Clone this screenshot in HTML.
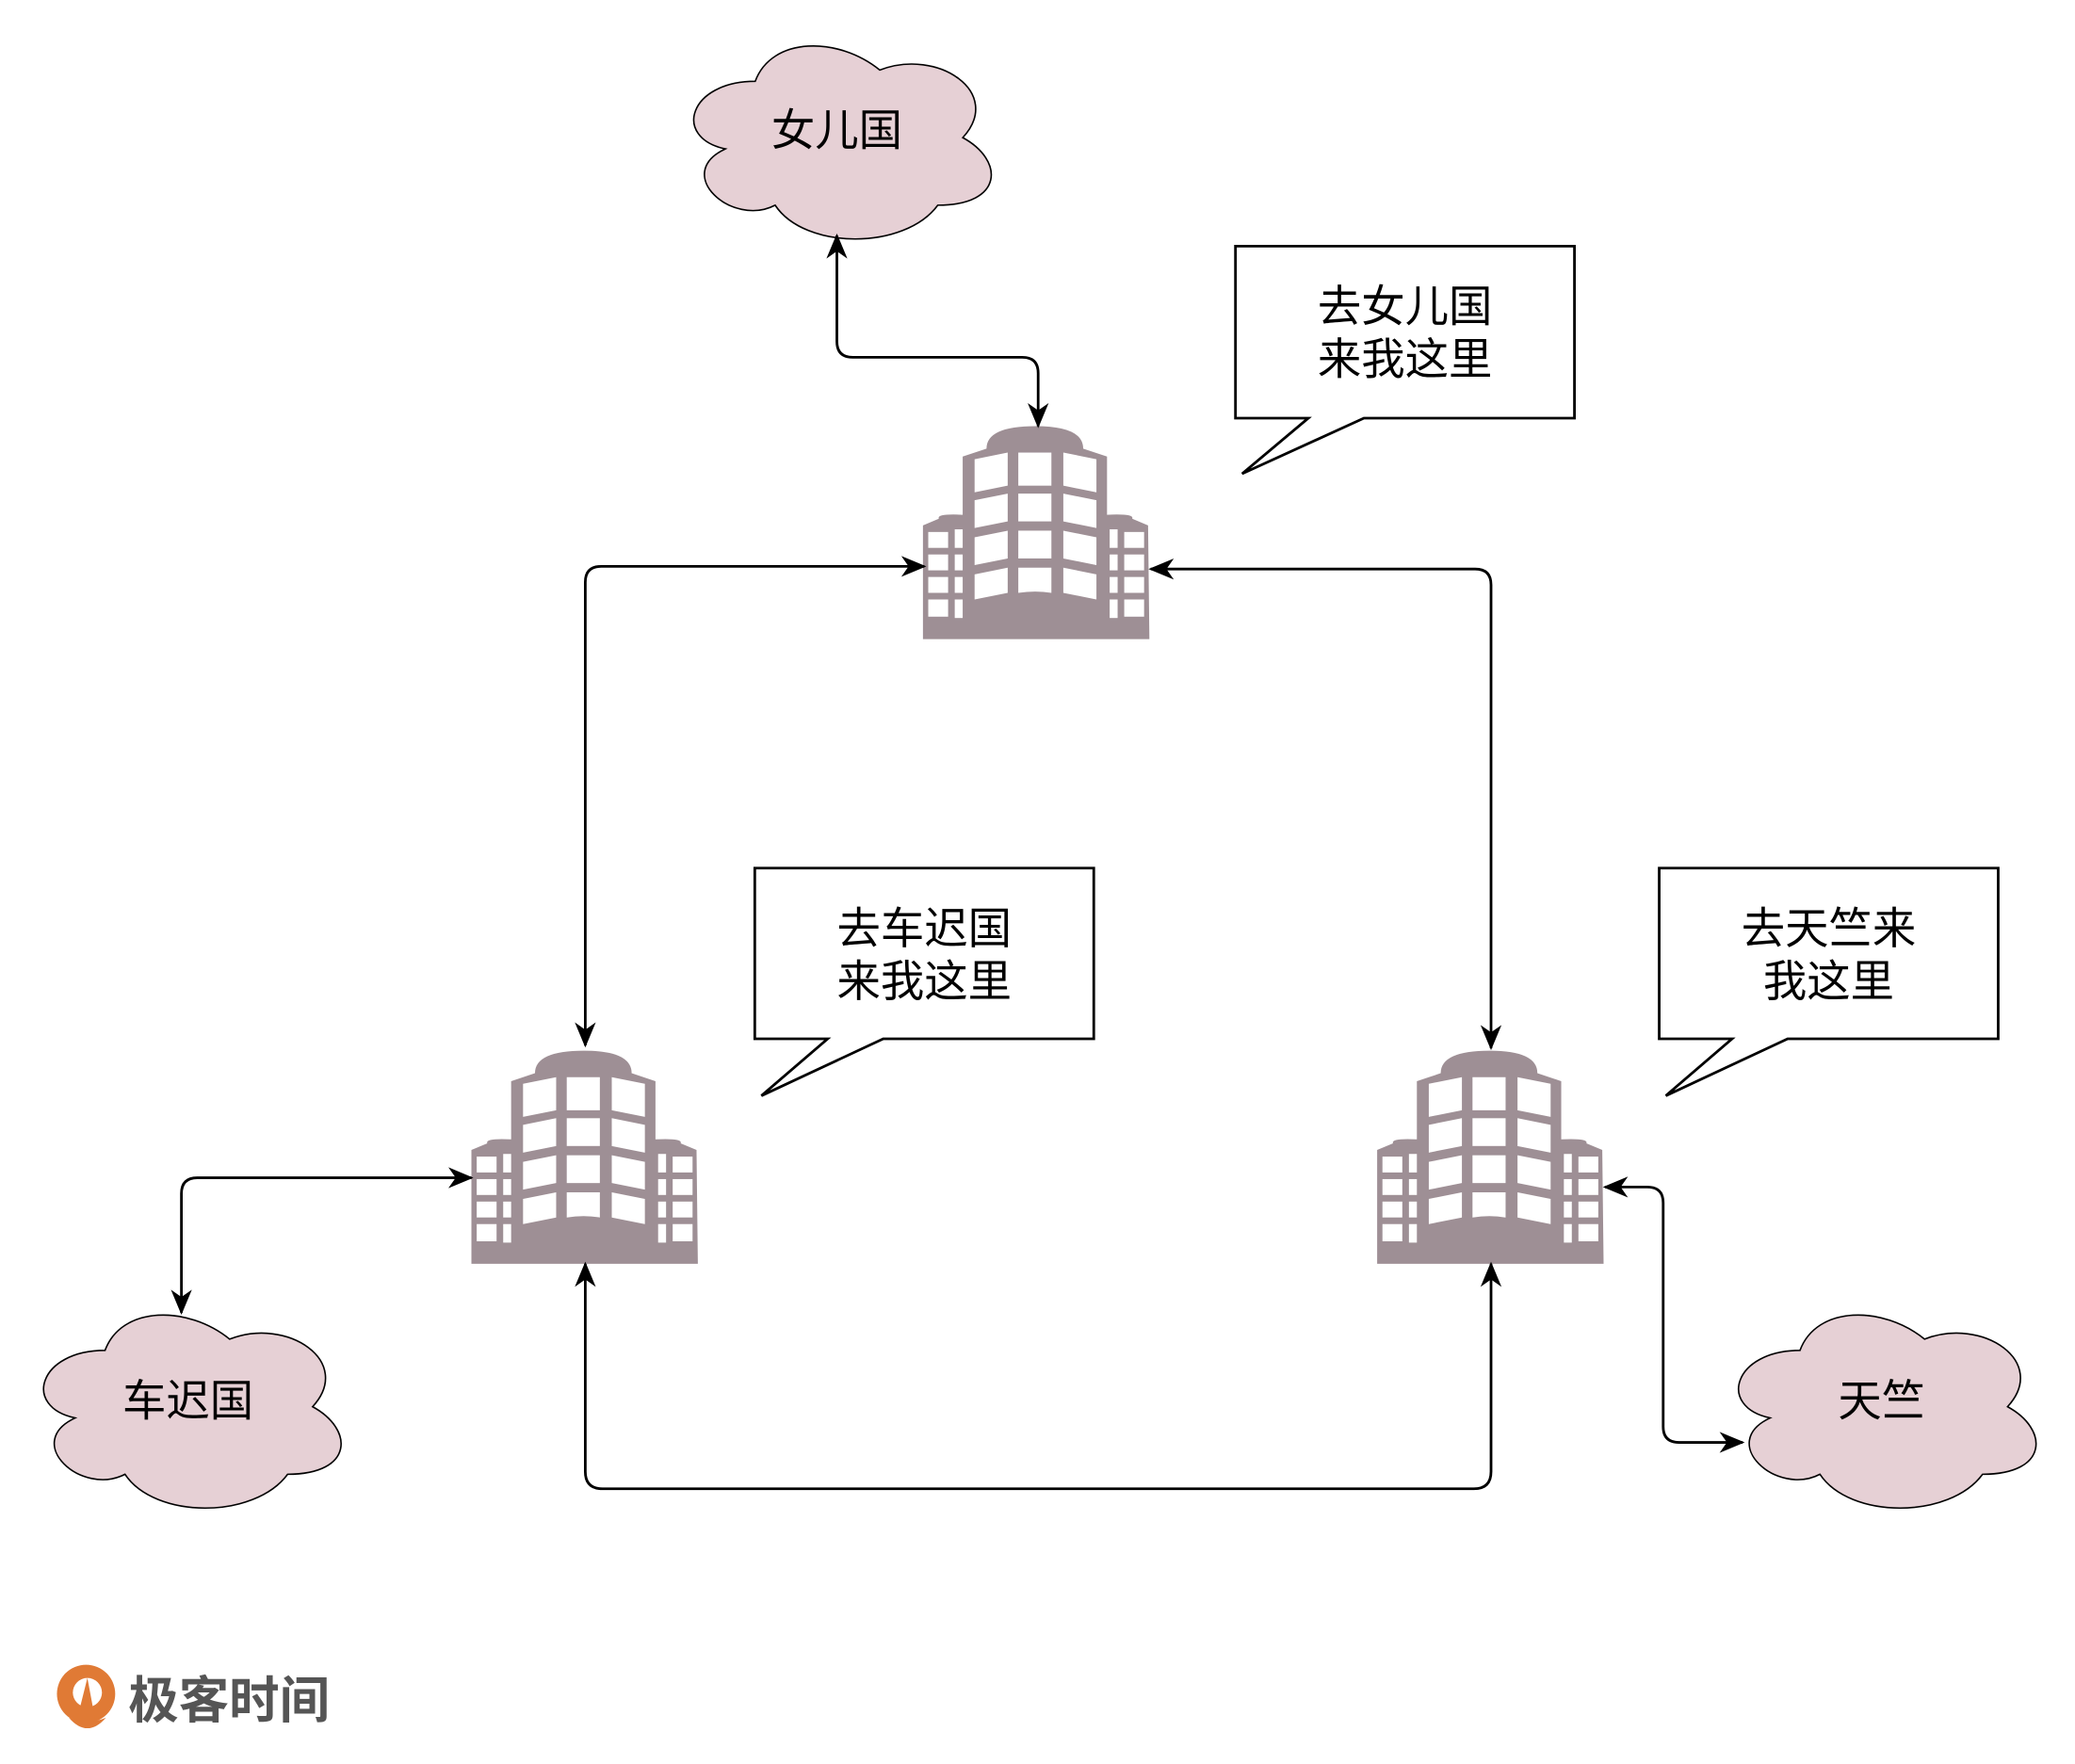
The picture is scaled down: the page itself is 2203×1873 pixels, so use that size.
<!DOCTYPE html>
<html><head><meta charset="utf-8"><style>html,body{margin:0;padding:0;background:#fff}svg{display:block}</style></head>
<body>
<svg width="2203" height="1873" viewBox="0 0 1567 1333" preserveAspectRatio="none" xmlns="http://www.w3.org/2000/svg" font-family="'Liberation Sans','Noto Sans CJK SC',sans-serif">
<defs>
<marker id="b" viewBox="0 0 12 12" refX="11" refY="6" markerWidth="19" markerHeight="19" markerUnits="userSpaceOnUse" orient="auto-start-reverse">
<path d="M0,1 L12,6 L0,11 L3.5,6 Z" fill="#000"/></marker>
<g id="bld">
<path d="M48,17 Q48,0 85,0 Q121,0 121,17 L139,23 L139,67 Q160,66 158,70 L170,75 L171,161 L0,161 L0,75 L12,70 Q10,66 30,67 L30,23 Z" fill="#9e8f95"/>
<g fill="#fff">
<path d="M39,25 L64,20 L64,45 L39,50 Z"/><rect x="72" y="20" width="25" height="25"/><path d="M106,20 L131,25 L131,50 L106,45 Z"/>
<path d="M39,56 L64,51 L64,72 L39,77 Z"/><rect x="72" y="51" width="25" height="21"/><path d="M106,51 L131,56 L131,77 L106,72 Z"/>
<path d="M39,84 L64,79 L64,100 L39,105 Z"/><rect x="72" y="79" width="25" height="21"/><path d="M106,79 L131,84 L131,105 L106,100 Z"/>
<path d="M39,112 L64,107 L64,126 L39,131 Z"/><path d="M72,107 L97,107 L97,126 Q85,124 72,126 Z"/><path d="M106,107 L131,112 L131,131 L106,126 Z"/>
<rect x="4" y="80" width="15" height="12"/><rect x="24" y="78" width="6" height="14"/>
<rect x="4" y="97" width="15" height="12"/><rect x="24" y="97" width="6" height="12"/>
<rect x="4" y="114" width="15" height="12"/><rect x="24" y="114" width="6" height="12"/>
<rect x="4" y="131" width="15" height="13"/><rect x="24" y="131" width="6" height="14"/>
<rect x="152" y="80" width="15" height="12"/><rect x="141" y="78" width="6" height="14"/>
<rect x="152" y="97" width="15" height="12"/><rect x="141" y="97" width="6" height="12"/>
<rect x="152" y="114" width="15" height="12"/><rect x="141" y="114" width="6" height="12"/>
<rect x="152" y="131" width="15" height="13"/><rect x="141" y="131" width="6" height="14"/>
</g></g>
<path id="cl" transform="translate(115,74) scale(1.09,1.15) translate(-115,-74)" vector-effect="non-scaling-stroke" d="M57.5,37 C11.5,37 0,74 36.8,81.4 C0,97.7 41.4,133.2 71.3,118.4 C92,148 161,148 184,118.4 C230,118.4 230,88.8 201.3,74 C230,44.4 184,14.8 143.8,29.6 C115,7.4 69,7.4 57.5,37 Z" fill="#e6d0d5" stroke="#000" stroke-width="1.6"/>
</defs>

<use href="#cl" x="518" y="30"/>
<use href="#cl" x="27" y="989"/>
<use href="#cl" x="1307" y="989"/>
<g font-size="33" text-anchor="middle" fill="#000">
<text x="632" y="110">女儿国</text>
<text x="142" y="1070">车迟国</text>
<text x="1421" y="1070">天竺</text>
</g>

<use href="#bld" x="697" y="322"/>
<use href="#bld" x="356" y="794"/>
<use href="#bld" x="1040" y="794"/>

<g fill="#fff" stroke="#000" stroke-width="2">
<path d="M933,186 H1189 V316 H1030 L938,358 L988,316 H933 Z"/>
<path d="M570,656 H826 V785 H667 L575,828 L625,785 H570 Z"/>
<path d="M1253,656 H1509 V785 H1350 L1258,828 L1308,785 H1253 Z"/>
</g>
<g font-size="33" text-anchor="middle" fill="#000">
<text x="1061" y="243">去女儿国</text><text x="1061" y="283">来我这里</text>
<text x="698" y="713">去车迟国</text><text x="698" y="753">来我这里</text>
<text x="1381" y="713">去天竺来</text><text x="1381" y="753">我这里</text>
</g>

<g fill="none" stroke="#000" stroke-width="2" marker-start="url(#b)" marker-end="url(#b)">
<path d="M632,178 V258 Q632,270 644,270 H772 Q784,270 784,282 V322"/>
<path d="M442,790 V440 Q442,428 454,428 H698"/>
<path d="M869,430 H1114 Q1126,430 1126,442 V792"/>
<path d="M442,955 V1112 Q442,1125 455,1125 H1113 Q1126,1125 1126,1112 V955"/>
<path d="M356,890 H149 Q137,890 137,902 V992"/>
<path d="M1212,897 H1244 Q1256,897 1256,909 V1078 Q1256,1090 1268,1090 H1316"/>
</g>

<g>
<circle cx="65" cy="1280" r="22" fill="#e07a35"/>
<circle cx="66" cy="1279" r="11" fill="#fff"/>
<path d="M58,1300 L66,1268 L72,1300 Z" fill="#e07a35"/>
<path d="M52,1298 Q66,1314 80,1298 Q66,1304 52,1298 Z" fill="#e07a35"/>
<text x="97" y="1298" font-size="38" font-weight="bold" fill="#555">极客时间</text>
</g>
</svg>
</body></html>
